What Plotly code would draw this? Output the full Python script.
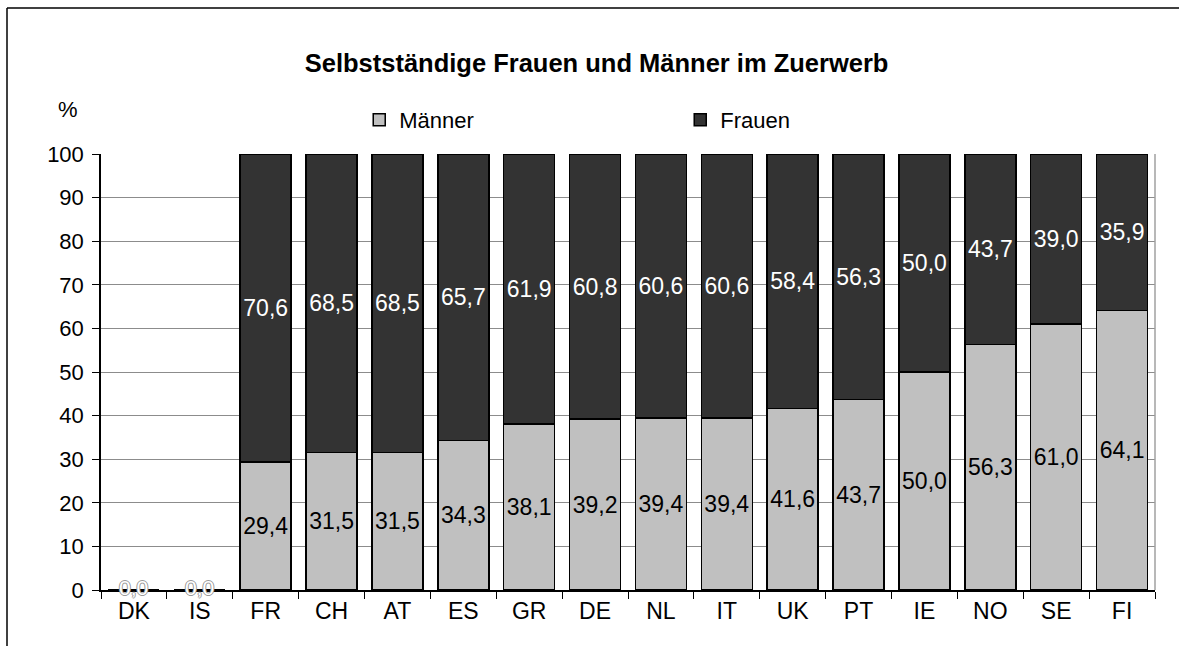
import plotly.graph_objects as go

countries = ["DK", "IS", "FR", "CH", "AT", "ES", "GR", "DE", "NL", "IT", "UK", "PT", "IE", "NO", "SE", "FI"]
maenner = [0.0, 0.0, 29.4, 31.5, 31.5, 34.3, 38.1, 39.2, 39.4, 39.4, 41.6, 43.7, 50.0, 56.3, 61.0, 64.1]
frauen = [0.0, 0.0, 70.6, 68.5, 68.5, 65.7, 61.9, 60.8, 60.6, 60.6, 58.4, 56.3, 50.0, 43.7, 39.0, 35.9]
y_ticks = [0, 10, 20, 30, 40, 50, 60, 70, 80, 90, 100]

title_text = "<b>Selbstständige Frauen und Männer im Zuerwerb</b>"
FONT = "Liberation Sans, Arial, sans-serif"

def fmt(v):
    return f"{v:.1f}".replace(".", ",")

fig = go.Figure()
fig.add_trace(go.Bar(
    x=countries, y=maenner, name="Männer",
    marker=dict(color="#C0C0C0", line=dict(color="#000000", width=1.5)),
    text=[fmt(v) if v > 0 else "" for v in maenner],
    textposition="inside", insidetextanchor="middle", textangle=0,
    textfont=dict(color="#000000", size=23, family=FONT),
    constraintext="none", hoverinfo="skip",
))
fig.add_trace(go.Bar(
    x=countries, y=frauen, name="Frauen",
    marker=dict(color="#333333", line=dict(color="#000000", width=1.5)),
    text=[fmt(v) if v > 0 else "" for v in frauen],
    textposition="inside", insidetextanchor="middle", textangle=0,
    textfont=dict(color="#FFFFFF", size=23, family=FONT),
    constraintext="none", hoverinfo="skip",
))

fig.update_layout(
    barmode="stack", bargap=0.226,
    width=1179, height=646,
    margin=dict(l=101, r=24, t=154, b=56),
    paper_bgcolor="white", plot_bgcolor="white",
    font=dict(family=FONT, size=22, color="#000000"),
    title=dict(text=title_text, x=0.506, xanchor="center", xref="container",
               y=1 - 63 / 646, yref="container", yanchor="middle",
               font=dict(size=25.5, family=FONT, color="#000000")),
    legend=dict(orientation="h", x=0.245, xanchor="left", y=1.0 + 34 / 436, yanchor="middle",
                font=dict(size=22, family=FONT), entrywidth=276, itemwidth=30,
                bgcolor="rgba(0,0,0,0)", traceorder="normal"),
    separators=",.",
    showlegend=True,
)
fig.update_xaxes(
    type="category", showline=True, linecolor="#000000", linewidth=1.5,
    ticks="outside", tickson="boundaries", ticklen=7, tickcolor="#000000",
    tickfont=dict(size=23, family=FONT), showgrid=False,
)
fig.update_yaxes(
    range=[0, 100], tickvals=y_ticks, showline=True, linecolor="#000000", linewidth=1.5,
    ticks="outside", ticklen=7, tickcolor="#000000", gridcolor="#8c8c8c", gridwidth=1.2,
    tickfont=dict(size=22, family=FONT), zeroline=False, ticklabelstandoff=4,
)
# labels for empty (zero) categories
for c, m, f in zip(countries, maenner, frauen):
    if m + f == 0:
        fig.add_annotation(
            x=c, y=m + f, xref="x", yref="y", text=fmt(m + f), showarrow=False,
            yanchor="middle", yshift=3,
            font=dict(color="#FFFFFF", size=21, family=FONT,
                      shadow="-1px 0 #9a9a9a, 1px 0 #9a9a9a, 0 1px #9a9a9a, 0 -1px #9a9a9a"),
        )
# "%" unit label
fig.add_annotation(text="%", xref="paper", yref="paper", x=-0.031, y=(590 - 110) / 436,
                   xanchor="center", yanchor="middle",
                   showarrow=False, font=dict(size=22, family=FONT))
# right edge of plot area
fig.add_shape(type="line", xref="paper", yref="paper", x0=1, x1=1, y0=0, y1=1,
              line=dict(color="#a0a0a0", width=1.5))
# outer chart frame (top and left visible)
fig.add_shape(type="line", xref="paper", yref="paper", x0=(7 - 101) / 1054, x1=(1179 - 101) / 1054,
              y0=(590 - 8) / 436, y1=(590 - 8) / 436, line=dict(color="#000000", width=1.5))
fig.add_shape(type="line", xref="paper", yref="paper", x0=(7 - 101) / 1054, x1=(7 - 101) / 1054,
              y0=(590 - 8) / 436, y1=(590 - 646) / 436, line=dict(color="#000000", width=1.5))

fig.write_html("out.html", config={"displayModeBar": False},
               post_script="document.body.style.margin='0';document.body.style.overflow='hidden';")
